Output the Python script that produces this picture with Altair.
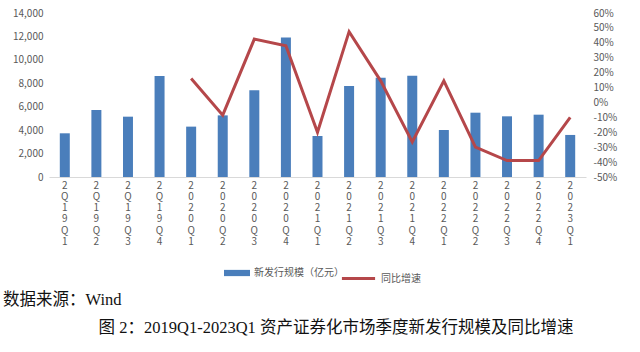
import altair as alt
import pandas as pd

quarters = ["2Q19Q1", "2Q19Q2", "2Q19Q3", "2Q19Q4",
            "2020Q1", "2020Q2", "2020Q3", "2020Q4",
            "2021Q1", "2021Q2", "2021Q3", "2021Q4",
            "2022Q1", "2022Q2", "2022Q3", "2022Q4",
            "2023Q1"]
issuance = [3730, 5720, 5150, 8620,
            4300, 5260, 7400, 11900,
            3500, 7770, 8480, 8650,
            4010, 5490, 5180, 5320,
            3590]
yoy = [None, None, None, None,
       16, -8.5, 42.5, 38,
       -20, 47.5, 14.5, -26.5,
       14.5, -30, -39, -39,
       -10]

bar_name = "新发行规模（亿元）"
line_name = "同比增速"
source_text = "数据来源：Wind"
title_text = "图 2：2019Q1-2023Q1 资产证券化市场季度新发行规模及同比增速"

df = pd.DataFrame({"q": quarters, "v": issuance, "y": yoy,
                   "s1": bar_name, "s2": line_name})

FONT = "Noto Sans CJK SC"
GRAY = "#595959"
BLUE = "#4A7EBB"
RED = "#B5474A"

x = alt.X("q:N", sort=quarters, title=None,
          scale=alt.Scale(paddingInner=0, paddingOuter=0),
          axis=alt.Axis(labelAngle=0, labelExpr="split(datum.label, '')",
                        labelLineHeight=11.3, labelFontSize=10, labelColor=GRAY,
                        labelFont=FONT, ticks=False, domainColor="#D9D9D9",
                        labelPadding=3, labelBaseline="top"))

bars = alt.Chart(df).mark_bar(size=10).encode(
    x=x,
    y=alt.Y("v:Q", title=None,
            scale=alt.Scale(domain=[0, 14000]),
            axis=alt.Axis(values=list(range(0, 14001, 2000)), format=",d",
                          grid=False, domain=False, ticks=False,
                          labelColor=GRAY, labelFontSize=10, labelFont=FONT,
                          labelPadding=6)),
    fill=alt.Fill("s1:N", scale=alt.Scale(domain=[bar_name], range=[BLUE]),
                  legend=alt.Legend(title=None, orient="none", legendX=175, legendY=247,
                                    symbolType="M-1,-0.24L1,-0.24L1,0.24L-1,0.24Z",
                                    symbolSize=676, labelFontSize=10, labelColor=GRAY,
                                    labelFont=FONT, symbolStrokeWidth=0)),
)

line = alt.Chart(df).mark_line(strokeWidth=3).encode(
    x=x,
    y=alt.Y("y:Q", title=None,
            scale=alt.Scale(domain=[-50, 60]),
            axis=alt.Axis(orient="right", values=list(range(-50, 61, 10)),
                          labelExpr="datum.value + '%'",
                          grid=False, domain=False, ticks=False,
                          labelColor=GRAY, labelFontSize=10, labelFont=FONT,
                          labelPadding=7)),
    stroke=alt.Stroke("s2:N", scale=alt.Scale(domain=[line_name], range=[RED]),
                      legend=alt.Legend(title=None, orient="none", legendX=291, legendY=247,
                                        symbolType="stroke", symbolSize=1100,
                                        symbolStrokeWidth=3, labelFontSize=10,
                                        labelColor=GRAY, labelFont=FONT)),
)

notes = pd.DataFrame({"t": [source_text]})
src = alt.Chart(notes).mark_text(
    align="left", baseline="alphabetic", fontSize=16.5,
    font="Liberation Serif, Noto Sans CJK SC", color="#111111"
).encode(text="t:N", x=alt.value(-46), y=alt.value(292))

titles = pd.DataFrame({"t": [title_text]})
ttl = alt.Chart(titles).mark_text(
    align="center", baseline="alphabetic", fontSize=16.5,
    font="Liberation Serif, Noto Sans CJK SC", color="#111111"
).encode(text="t:N", x=alt.value(287), y=alt.value(320))

chart = alt.layer(bars, line, src, ttl).resolve_scale(
    y="independent"
).properties(
    width=537, height=164,
    autosize=alt.AutoSizeParams(type="none"),
    padding={"left": 49, "top": 13, "right": 54, "bottom": 175},
    background="white",
).configure_view(stroke=None)

chart.save("out.html", embed_options={"renderer": "svg", "actions": False})
